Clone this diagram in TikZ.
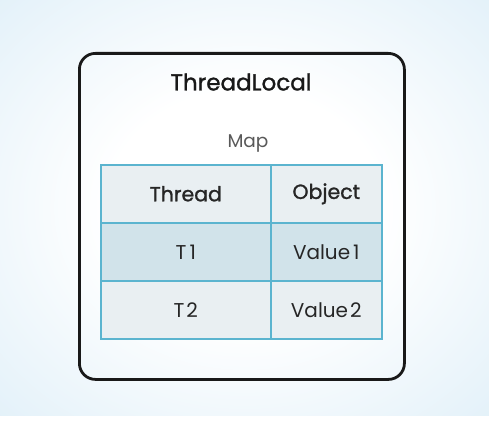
\documentclass[tikz,border=0pt]{standalone}
\usepackage{fontspec}
\setmainfont{Poppins}
\newfontfamily\medfont[FakeBold=1.2]{Poppins}
\definecolor{bgblue}{HTML}{E3F1F9}
\pgfdeclareradialshading{halo}{\pgfpoint{0bp}{0bp}}{%
  color(0bp)=(white); color(14bp)=(white);
  color(36bp)=(bgblue); color(48bp)=(bgblue);
  color(70bp)=(bgblue!30!white); color(100bp)=(bgblue!30!white)}
\begin{document}
\begin{tikzpicture}[x=1pt,y=-1pt,
  cellline/.style={draw=cellblue, line width=1.6pt},
  cell/.style={cellline, minimum height=58pt, inner sep=0pt, anchor=north west, text=black!85},
  headcell/.style={cell, fill=headfill, font=\medfont\fontsize{20.5}{24}\selectfont},
  bodycell/.style={cell, font=\fontsize{20}{24}\selectfont},
]
\definecolor{cellblue}{HTML}{5BB4CF}
\definecolor{headfill}{HTML}{E9EFF2}
\definecolor{rowone}{HTML}{D1E3EA}
\definecolor{rowtwo}{HTML}{E9EFF2}

% canvas with a soft blue halo round the container
\useasboundingbox (0,0) rectangle (489,425);
\fill[white] (0,0) rectangle (489,425);
\shade[shading=halo] (0,0) rectangle (489,415);

% ThreadLocal container
\node[draw=black!90, line width=2.8pt, rounded corners=16pt, minimum width=325pt, minimum height=326pt, anchor=north west, inner sep=0pt] (box) at (78,52) {};
\node[font=\medfont\fontsize{23}{26}\selectfont, text=black!90] (title) at (241,82) {ThreadLocal};
\node[font=\fontsize{18.5}{22}\selectfont, text=black!65] (map) at (248,144) {Map};

% map table
\node[headcell, minimum width=170pt] (h1) at (100,164) {Thread};
\node[headcell, minimum width=111pt] (h2) at (270,164) {Object};
\node[bodycell, minimum width=170pt, fill=rowone] (t1) at (100,222) {T\kern3pt 1};
\node[bodycell, minimum width=111pt, fill=rowone] (v1) at (270,222) {Value\kern3pt 1};
\node[bodycell, minimum width=170pt, fill=rowtwo] (t2) at (100,280) {T\kern2pt 2};
\node[bodycell, minimum width=111pt, fill=rowtwo] (v2) at (270,280) {Value\kern2pt 2};
\end{tikzpicture}
\end{document}
